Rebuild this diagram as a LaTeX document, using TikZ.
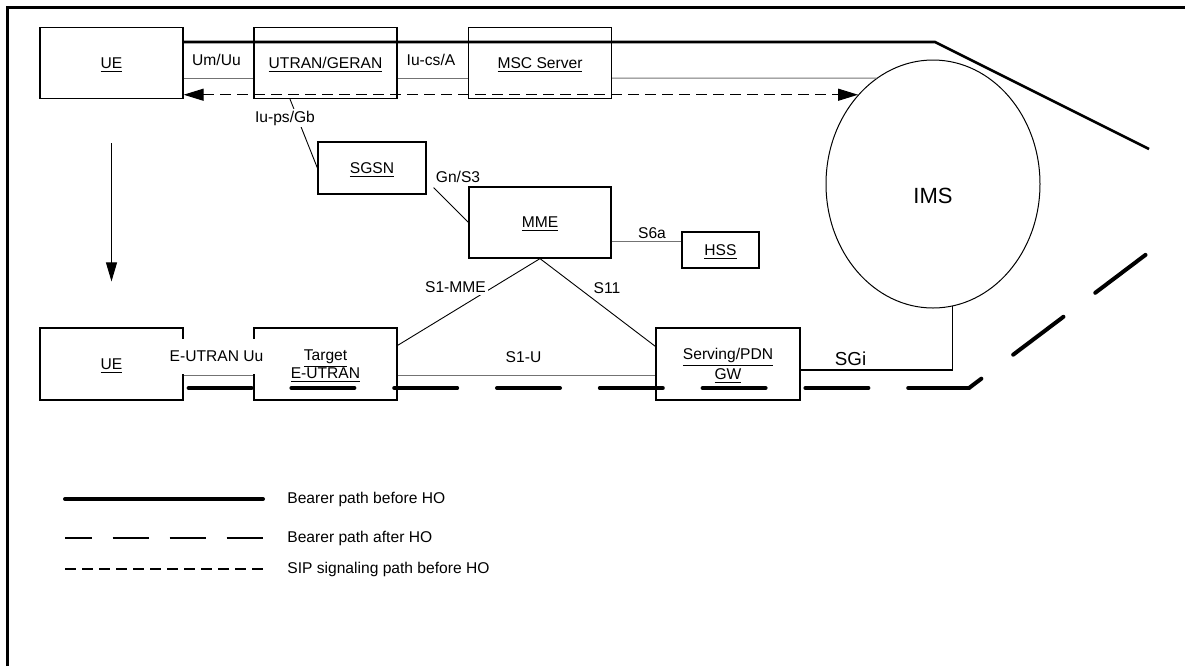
\documentclass[tikz,border=0pt]{standalone}
\usepackage{fontspec}
\setmainfont{Liberation Sans}
\usetikzlibrary{arrows.meta,shapes.geometric}
\definecolor{ifgray}{gray}{0.45}

\begin{document}
\begin{tikzpicture}[
    x=0.5pt,y=-0.5pt,
    box/.style={draw=black,line width=0.6pt,
      align=center,minimum width=71.5pt,minimum height=35.5pt,inner sep=1pt,
      text depth=0pt,font=\fontsize{7.8}{9}\selectfont},
    lbl/.style={inner sep=1pt,font=\fontsize{7.8}{9}\selectfont},
    cut/.style={lbl,fill=white},
    leg/.style={lbl,anchor=west,inner sep=0pt},
    iface/.style={draw=ifgray,line width=0.5pt},
    link/.style={draw=black,line width=0.45pt},
    bearer/.style={draw=black,line width=1.3pt},
    newbearer/.style={draw=black,line width=2pt,line cap=round,dash pattern=on 31.5pt off 19.9pt},
    sipline/.style={draw=black,line width=0.6pt,dash pattern=on 5.5pt off 3pt},
    sip/.style={sipline,{Triangle[length=10pt,width=6pt]}-{Triangle[length=10pt,width=6pt]}},
    arrow/.style={-{Triangle[length=9.5pt,width=5.5pt]},draw=black,line width=0.5pt}
  ]
  \useasboundingbox (0,0) rectangle (1185,666);
  \draw[line width=1.5pt] (7.5,666) -- (7.5,7.5) -- (1185,7.5);

  \node[box] (uetop) at (111.5,63) {\underline{UE}};
  \node[box] (utran) at (325.5,63) {\underline{UTRAN/GERAN}};
  \node[box] (msc) at (540,63) {\underline{MSC Server}};
  \node[box,minimum width=54pt,minimum height=26pt] (sgsn) at (372,168) {\underline{SGSN}};
  \node[box,minimum width=71pt] (mme) at (540,222.5) {\underline{MME}};
  \node[box,minimum width=38.5pt,minimum height=18pt] (hss) at (720.5,250) {\underline{HSS}};
  \node[box,minimum height=36pt] (uebot) at (111.5,364) {\underline{UE}};
  \node[box,minimum height=36pt] (target) at (325.5,364) {\underline{Target}\\\underline{E-UTRAN}};
  \node[box,minimum width=72pt,minimum height=36pt] (sgw) at (728,364) {\underline{Serving/PDN}\\\underline{GW}};
  \node[draw=black,line width=0.5pt,ellipse,minimum width=107pt,minimum height=124pt,inner sep=0pt] (ims) at (933,184) {};

  \coordinate (bupturn) at (935,42);
  \coordinate (bupend) at (1149,149);
  \coordinate (bdnturn) at (969,388);
  \coordinate (bdnend) at (1148,253);
  \coordinate (ifup) at (0,78);
  \coordinate (ifdn) at (0,375);
  \coordinate (sgi) at (0,370);
  \coordinate (s6a) at (0,241);

  \draw[iface] (uetop.east |- ifup) -- (utran.west |- ifup);
  \draw[iface] (utran.east |- ifup) -- (msc.west |- ifup);
  \draw[iface] (msc.east |- ifup) -- (ims.118);
  \draw[bearer] (uetop.east |- bupturn) -- (bupturn) -- (bupend);
  \draw[sip] (uetop.east |- ims.130) -- (ims.130);
  \draw[arrow,shorten <=22pt,shorten >=23pt] (uetop) -- (uebot);
  \draw[link] ([xshift=-17.75pt]utran.south) -- (sgsn.west);
  \draw[link] ([shift={(3.5pt,3.5pt)}]sgsn.south east) -- (mme.west);
  \draw[iface] (mme.east |- s6a) -- (hss.west |- s6a);
  \draw[link] (mme.south) -- ([yshift=-9pt]target.north east);
  \draw[link] (mme.south) -- ([yshift=-9.5pt]sgw.north west);
  \draw[iface] (uebot.east |- ifdn) -- (target.west |- ifdn);
  \draw[iface] (target.east |- ifdn) -- (sgw.west |- ifdn);
  \draw[link,line width=0.6pt] (sgw.east |- sgi) -| (ims.279);
  \draw[newbearer] (uebot.east |- bdnturn) ++(5,0) -- (bdnturn);
  \draw[newbearer,dash phase=23.75pt] (bdnturn) -- (bdnend);

  \node[lbl] (umuu) at (216.5,59.5) {Um/Uu};
  \node[lbl] (iucs) at (431,59.5) {Iu-cs/A};
  \node[cut] (iups) at (285,118) {Iu-ps/Gb};
  \node[lbl] (gns3) at (458,177) {Gn/S3};
  \node[cut] (s6alabel) at (652,233.5) {S6a};
  \node[cut] (s1mme) at (455.5,287) {S1-MME};
  \node[cut] (s11) at (607,288) {S11};
  \node[lbl] (s1u) at (523.5,357) {S1-U};
  \node[cut,minimum height=17.5pt] (euu) at (216.5,356) {E-UTRAN Uu};
  \node[lbl,font=\fontsize{9.4}{11}\selectfont] (sgilabel) at (850.5,358.5) {SGi};
  \node[font=\fontsize{11}{13}\selectfont] (imslabel) at (933,195.5) {IMS};

  \node[leg] (legbefore) at (287,499) {Bearer path before HO};
  \node[leg] (legafter) at (287,538) {Bearer path after HO};
  \node[leg] (legsip) at (287,569) {SIP signaling path before HO};
  \draw[draw=black,line width=2pt,line cap=round] ([xshift=-111pt]legbefore.west) -- ([xshift=-12pt]legbefore.west);
  \draw[draw=black,line width=1.3pt,dash pattern=on 18.25pt off 10.25pt,dash phase=4.75pt] ([xshift=-111pt]legafter.west) -- ([xshift=-12pt]legafter.west);
  \draw[sipline] ([xshift=-111pt]legsip.west) -- ([xshift=-12pt]legsip.west);
\end{tikzpicture}
\end{document}
